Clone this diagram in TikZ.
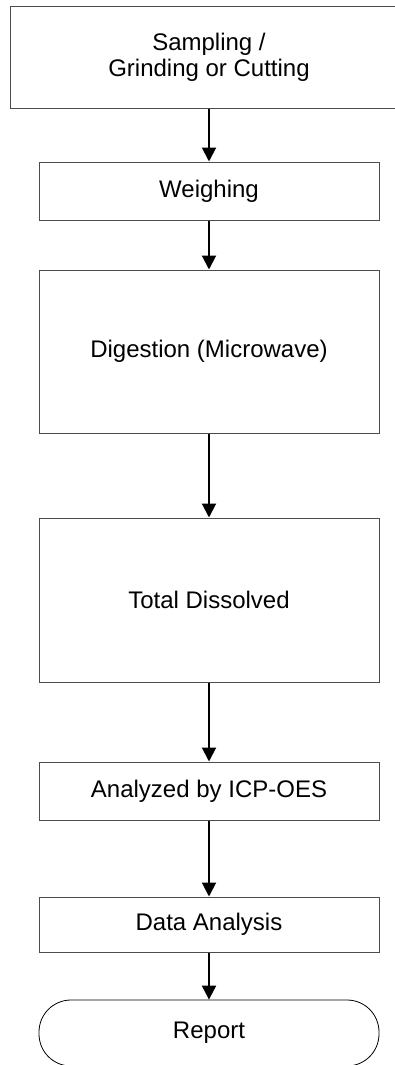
\documentclass[tikz,border=0pt]{standalone}
\usepackage{fontspec}
\setmainfont{Liberation Sans}
\usetikzlibrary{arrows.meta}
\begin{document}
\begin{tikzpicture}[x=1pt,y=-1pt,
  box/.style={draw=black!70,line width=1pt,fill=white,inner sep=0pt,align=center,font=\fontsize{24}{26}\selectfont},
  term/.style={draw=black,line width=0.8pt,fill=white,inner sep=0pt,rounded corners=32pt,font=\fontsize{24}{26}\selectfont},
  flow/.style={line width=2pt,-{Triangle[length=14pt,width=14pt]}}]
\useasboundingbox (0,0) rectangle (394,1065);
\node[box,minimum width=398pt,minimum height=101pt] (s1) at (209,57.5) {Sampling /\\Grinding or Cutting};
\node[box,minimum width=340pt,minimum height=58pt] (s2) at (209,191) {Weighing};
\node[box,minimum width=340pt,minimum height=163pt] (s3) at (209,351.5) {Digestion (Microwave)};
\node[box,minimum width=340pt,minimum height=164pt] (s4) at (209,600) {Total Dissolved};
\node[box,minimum width=340pt,minimum height=58pt] (s5) at (209,791) {Analyzed by ICP-OES};
\node[box,minimum width=340pt,minimum height=55pt] (s6) at (209,924.5) {Data Analysis};
\node[term,minimum width=340pt,minimum height=66pt] (s7) at (209,1033) {Report};
\draw[flow] (s1) -- (s2);
\draw[flow] (s2) -- (s3);
\draw[flow] (s3) -- (s4);
\draw[flow] (s4) -- (s5);
\draw[flow] (s5) -- (s6);
\draw[flow] (s6) -- (s7);
\end{tikzpicture}
\end{document}
